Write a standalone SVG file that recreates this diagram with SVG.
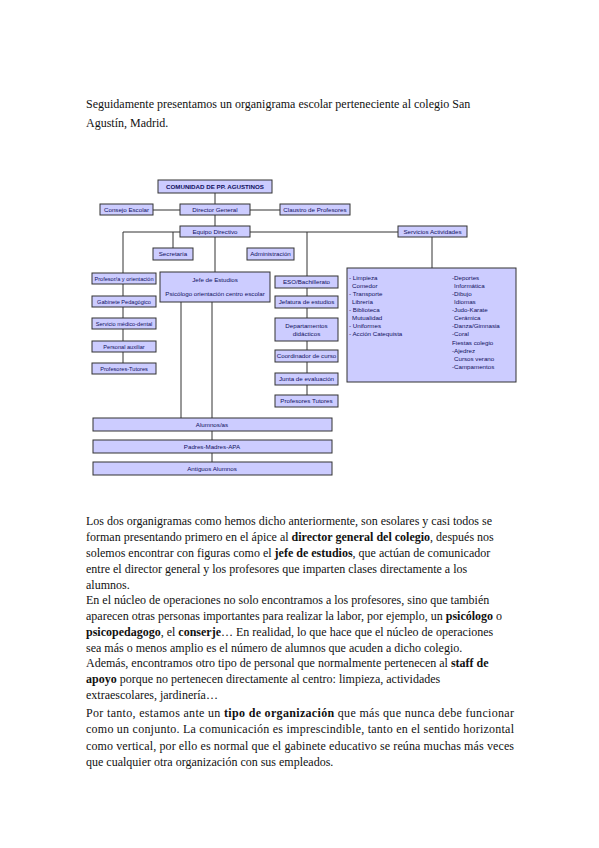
<svg xmlns="http://www.w3.org/2000/svg" width="599" height="848" viewBox="0 0 599 848">
<style>
.body{font-family:"Liberation Serif","Times New Roman",serif;font-size:12px;fill:#111}
.b{font-weight:bold}
.box{fill:#ccccff;stroke:#333;stroke-width:1}
.lbl{font-family:"Liberation Sans",Arial,sans-serif;font-size:6.2px;fill:#101060;text-anchor:middle}
.sm{font-size:5.6px}
.lst{font-family:"Liberation Sans",Arial,sans-serif;font-size:6.2px;fill:#101060}
.ln{stroke:#333;stroke-width:1;fill:none}
</style>
<rect width="599" height="848" fill="#fff"/>
<text class="body" x="86" y="108">Seguidamente presentamos un organigrama escolar perteneciente al colegio San</text>
<text class="body" x="86" y="127">Agustín, Madrid.</text>

<g id="connectors">
<path class="ln" d="M215 193V204M153 210H180M250 210H280M215 215V226M123 232H180M250 232H398M123 232V363M173 232V248M215 237V272M307 232V395M432 237V268M181 302V418M212 302V462"/>
</g>

<g id="n-comunidad"><rect class="box" x="158" y="180" width="114" height="13"/><text class="lbl" x="215" y="189" font-weight="bold" font-size="5.8">COMUNIDAD DE PP. AGUSTINOS</text></g>
<g id="n-consejo"><rect class="box" x="100" y="204" width="53" height="11"/><text class="lbl" x="126.5" y="211.8">Consejo Escolar</text></g>
<g id="n-director"><rect class="box" x="180" y="204" width="70" height="11"/><text class="lbl" x="215" y="211.8">Director General</text></g>
<g id="n-claustro"><rect class="box" x="280" y="204" width="70" height="11"/><text class="lbl" x="315" y="211.8">Claustro de Profesores</text></g>
<g id="n-equipo"><rect class="box" x="180" y="226" width="70" height="11"/><text class="lbl" x="215" y="233.8">Equipo Directivo</text></g>
<g id="n-servicios"><rect class="box" x="398" y="226" width="69" height="11"/><text class="lbl" x="432.5" y="233.8">Servicios Actividades</text></g>
<g id="n-secretaria"><rect class="box" x="153" y="248" width="40" height="12"/><text class="lbl" x="173" y="256.3">Secretaría</text></g>
<g id="n-administracion"><rect class="box" x="247" y="248" width="47" height="12"/><text class="lbl" x="270.5" y="256.3">Administración</text></g>

<g id="n-l1"><rect class="box" x="92" y="273" width="64" height="11"/><text class="lbl sm" x="124" y="280.6">Profesor/a y orientación</text></g>
<g id="n-l2"><rect class="box" x="92" y="296" width="64" height="11"/><text class="lbl sm" x="124" y="303.6">Gabinete Pedagógico</text></g>
<g id="n-l3"><rect class="box" x="92" y="318" width="64" height="11"/><text class="lbl sm" x="124" y="325.6">Servicio médico-dental</text></g>
<g id="n-l4"><rect class="box" x="92" y="341" width="64" height="11"/><text class="lbl sm" x="124" y="348.6">Personal auxiliar</text></g>
<g id="n-l5"><rect class="box" x="92" y="363" width="64" height="11"/><text class="lbl sm" x="124" y="370.6">Profesores-Tutores</text></g>

<g id="n-centro"><rect class="box" x="160" y="272" width="110" height="30"/><text class="lbl" x="215" y="282">Jefe de Estudios</text><text class="lbl" x="215" y="296">Psicólogo orientación centro escolar</text></g>

<g id="n-r1"><rect class="box" x="275" y="276" width="63" height="12"/><text class="lbl" x="306.5" y="284.3">ESO/Bachillerato</text></g>
<g id="n-r2"><rect class="box" x="275" y="296" width="63" height="12"/><text class="lbl" x="306.5" y="304.3">Jefatura de estudios</text></g>
<g id="n-r3"><rect class="box" x="275" y="318" width="63" height="23"/><text class="lbl" x="306.5" y="327.5">Departamentos</text><text class="lbl" x="306.5" y="336">didácticos</text></g>
<g id="n-r4"><rect class="box" x="275" y="350" width="63" height="12"/><text class="lbl" x="306.5" y="358.3">Coordinador de curso</text></g>
<g id="n-r5"><rect class="box" x="275" y="373" width="63" height="12"/><text class="lbl" x="306.5" y="381.3">Junta de evaluación</text></g>
<g id="n-r6"><rect class="box" x="275" y="395" width="63" height="12"/><text class="lbl" x="306.5" y="403.3">Profesores Tutores</text></g>

<g id="n-actividades"><rect class="box" x="347" y="268" width="169" height="114"/>
<text class="lst" x="349" y="279.5">- Limpieza</text>
<text class="lst" x="352" y="287.5">Comedor</text>
<text class="lst" x="349" y="295.5">- Transporte</text>
<text class="lst" x="352" y="303.5">Librería</text>
<text class="lst" x="349" y="312">- Biblioteca</text>
<text class="lst" x="352" y="320">Mutualidad</text>
<text class="lst" x="349" y="328">- Uniformes</text>
<text class="lst" x="349" y="336">- Acción Catequista</text>
<text class="lst" x="452" y="280">-Deportes</text>
<text class="lst" x="454" y="288">Informática</text>
<text class="lst" x="452" y="296">-Dibujo</text>
<text class="lst" x="454" y="304">Idiomas</text>
<text class="lst" x="452" y="312">-Judo-Karate</text>
<text class="lst" x="454" y="320">Cerámica</text>
<text class="lst" x="452" y="328">-Danza/Gimnasia</text>
<text class="lst" x="452" y="336">-Coral</text>
<text class="lst" x="452" y="345">Fiestas colegio</text>
<text class="lst" x="452" y="353">-Ajedrez</text>
<text class="lst" x="454" y="361">Cursos verano</text>
<text class="lst" x="452" y="369">-Campamentos</text>
</g>

<g id="n-alumnos"><rect class="box" x="93" y="418" width="239" height="13"/><text class="lbl" x="212" y="426.8">Alumnos/as</text></g>
<g id="n-padres"><rect class="box" x="93" y="440" width="239" height="13"/><text class="lbl" x="212" y="448.8">Padres-Madres-APA</text></g>
<g id="n-antiguos"><rect class="box" x="93" y="462" width="239" height="13"/><text class="lbl" x="212" y="470.8">Antiguos Alumnos</text></g>

<text class="body" x="86" y="525">Los dos organigramas como hemos dicho anteriormente, son esolares y casi todos se</text>
<text class="body" x="86" y="541">forman presentando primero en el ápice al <tspan class="b">director general del colegio</tspan>, después nos</text>
<text class="body" x="86" y="557">solemos encontrar con figuras como el <tspan class="b">jefe de estudios</tspan>, que actúan de comunicador</text>
<text class="body" x="86" y="573">entre el director general y los profesores que imparten clases directamente a los</text>
<text class="body" x="86" y="589">alumnos.</text>
<text class="body" x="86" y="604">En el núcleo de operaciones no solo encontramos a los profesores, sino que también</text>
<text class="body" x="86" y="620">aparecen otras personas importantes para realizar la labor, por ejemplo, un <tspan class="b">psicólogo</tspan> o</text>
<text class="body" x="86" y="636"><tspan class="b">psicopedagogo</tspan>, el <tspan class="b">conserje</tspan>… En realidad, lo que hace que el núcleo de operaciones</text>
<text class="body" x="86" y="652">sea más o menos amplio es el número de alumnos que acuden a dicho colegio.</text>
<text class="body" x="86" y="667">Además, encontramos otro tipo de personal que normalmente pertenecen al <tspan class="b">staff de</tspan></text>
<text class="body" x="86" y="683"><tspan class="b">apoyo</tspan> porque no pertenecen directamente al centro: limpieza, actividades</text>
<text class="body" x="86" y="699">extraescolares, jardinería…</text>
<text class="body" x="86" y="717" textLength="428" lengthAdjust="spacing">Por tanto, estamos ante un <tspan class="b">tipo de organización</tspan> que más que nunca debe funcionar</text>
<text class="body" x="86" y="733" textLength="428" lengthAdjust="spacing">como un conjunto. La comunicación es imprescindible, tanto en el sentido horizontal</text>
<text class="body" x="86" y="750" textLength="428" lengthAdjust="spacing">como vertical, por ello es normal que el gabinete educativo se reúna muchas más veces</text>
<text class="body" x="86" y="766">que cualquier otra organización con sus empleados.</text>
</svg>
